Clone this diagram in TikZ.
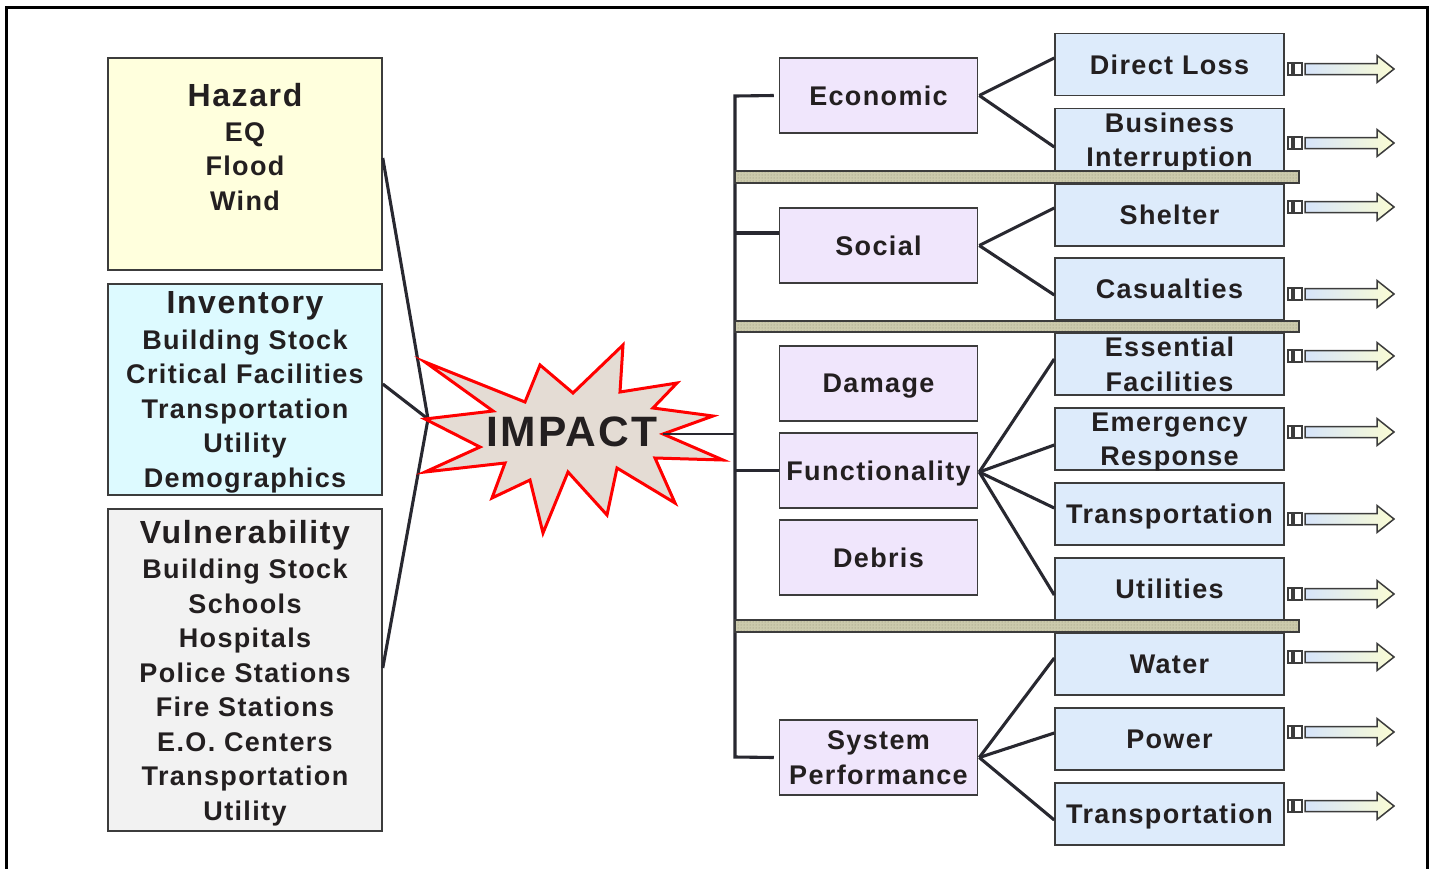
\documentclass[tikz,border=0pt]{standalone}
\usepackage{fontspec}
\setmainfont{Liberation Sans}[LetterSpace=5]
\usetikzlibrary{patterns}
\definecolor{txt}{RGB}{35,31,32}
\definecolor{hazc}{RGB}{255,255,221}
\definecolor{invc}{RGB}{221,250,255}
\definecolor{vulc}{RGB}{242,242,242}
\definecolor{pinkc}{RGB}{240,230,252}
\definecolor{bluec}{RGB}{221,235,251}
\definecolor{starfill}{RGB}{228,220,212}
\definecolor{linec}{RGB}{40,40,48}
\definecolor{boxc}{RGB}{60,60,60}
\definecolor{barfill}{RGB}{204,202,172}
\definecolor{barpat}{RGB}{140,140,115}
\definecolor{arrL}{RGB}{214,228,250}
\definecolor{arrR}{RGB}{250,252,212}
\definecolor{impred}{RGB}{255,0,0}
\newcommand{\itemfnt}{\fontsize{27}{34.5}\selectfont\bfseries}
\newcommand{\ttlfnt}{\fontsize{32}{38}\selectfont}
\tikzset{
  box/.style={draw=boxc, line width=1.5pt, inner sep=0pt, align=center, font=\itemfnt, text=txt, text depth=0pt},
  lbox/.style={box, minimum width=274pt},
  pbox/.style={box, fill=pinkc, minimum width=198pt, minimum height=75pt},
  bbox/.style={box, fill=bluec, minimum width=229pt, minimum height=62pt},
  conn/.style={draw=linec, line width=3.1pt},
  thinconn/.style={draw=linec, line width=1.5pt},
  sepbar/.style={draw=boxc, line width=1.5pt},
  outarr/.pic={
    \draw[draw=boxc, line width=1.2pt, fill=white] (0,-6) rectangle (14,6);
    \fill[boxc] (3,-6) rectangle (7,6);
    \path[draw=boxc, line width=1.5pt, left color=arrL, right color=arrR, line join=miter]
      (17,-5.5) -- (89,-5.5) -- (89,-13.5) -- (106,0) -- (89,13.5) -- (89,5.5) -- (17,5.5) -- cycle;
  }
}
\begin{document}
\begin{tikzpicture}[x=1pt,y=-1pt]
\useasboundingbox (0,0) rectangle (1432,868);
% outer frame
\draw[line width=3pt, black] (6,885) -- (6,7) -- (1427,7) -- (1427,885);

% left boxes
\node[lbox, fill=hazc, minimum height=212pt] (haz) at (245,164)
  {{\ttlfnt Hazard}\\EQ\\Flood\\Wind\\\mbox{}};
\node[lbox, fill=invc, minimum height=211pt] (inv) at (245,389.5)
  {{\ttlfnt Inventory}\\[1pt]Building Stock\\Critical Facilities\\Transportation\\Utility\\Demographics};
\node[lbox, fill=vulc, minimum height=322pt] (vul) at (245,670)
  {{\ttlfnt Vulnerability}\\[1pt]Building Stock\\Schools\\Hospitals\\Police Stations\\Fire Stations\\E.O. Centers\\Transportation\\Utility};

% star anchors
\coordinate (starL) at (428,419);
\coordinate (starR) at (663,434);

% lines into the star
\draw[conn] ([yshift=6pt]haz.east) -- (starL);
\draw[conn] ([yshift=5.5pt]inv.east) -- (starL);
\draw[conn] ([yshift=2pt]vul.east) -- (starL);

% star
\draw[impred, line width=3pt, fill=starfill, line join=miter]
  (425,362) -- (525,402) -- (540,365) -- (573,393) -- (623,345) -- (620,392)
  -- (677,383) -- (653,408) -- (713,416) -- (663,434) -- (723,460) -- (655,458)
  -- (675,503) -- (617,468) -- (607,515) -- (568,472) -- (543,533) -- (530,480)
  -- (492,498) -- (505,463) -- (425,472) -- (480,447) -- (425,419) -- (493,411) -- cycle;
\node[font=\fontsize{42.5}{50}\selectfont\bfseries, text=txt, inner sep=0pt, text depth=0pt] (impact) at (572,432) {IMPACT};

% middle (pink) boxes
\node[pbox] (econ) at (878.5,95.5) {Economic};
\node[pbox] (soc) at (878.5,245.5) {Social};
\node[pbox] (dam) at (878.5,383.5) {Damage};
\node[pbox] (func) at (878.5,470.5) {Functionality};
\node[pbox] (deb) at (878.5,557.5) {Debris};
\node[pbox] (sysp) at (878.5,757.5) {System\\Performance};

% trunk
\coordinate (tt) at (735,96);
\coordinate (tb) at (735,757);
\draw[conn, line join=miter] ([xshift=-5pt]econ.west) -- (tt) -- (tb) -- ([xshift=-5pt]sysp.west);
\draw[conn] ([yshift=12.5pt]soc.west) -- ([yshift=12.5pt]soc.west -| tt);
\draw[conn] (func.west) -- (func.west -| tt);
\draw[thinconn] (starR) -- (starR -| tt);

% right (blue) boxes
\node[bbox] (dl) at (1169.5,64.5) {Direct Loss};
\node[bbox] (bi) at (1169.5,139.5) {Business\\Interruption};
\node[bbox] (shel) at (1169.5,215) {Shelter};
\node[bbox] (cas) at (1169.5,289) {Casualties};
\node[bbox] (ess) at (1169.5,364) {Essential\\Facilities};
\node[bbox] (emer) at (1169.5,439) {Emergency\\Response};
\node[bbox] (trA) at (1169.5,514) {Transportation};
\node[bbox] (util) at (1169.5,589) {Utilities};
\node[bbox] (water) at (1169.5,664) {Water};
\node[bbox] (power) at (1169.5,739) {Power};
\node[bbox] (trB) at (1169.5,814) {Transportation};

% fan connectors
\draw[conn] ([xshift=1pt]econ.east) -- ([yshift=6.5pt]dl.west);
\draw[conn] ([xshift=1pt]econ.east) -- ([yshift=-7.5pt]bi.west);
\draw[conn] ([xshift=1pt]soc.east) -- ([yshift=7pt]shel.west);
\draw[conn] ([xshift=1pt]soc.east) -- ([yshift=-6pt]cas.west);
\draw[conn] ([xshift=1pt,yshift=-1.5pt]func.east) -- ([yshift=5pt]ess.west);
\draw[conn] ([xshift=1pt,yshift=-1.5pt]func.east) -- ([yshift=-6pt]emer.west);
\draw[conn] ([xshift=1pt,yshift=-1.5pt]func.east) -- ([yshift=6pt]trA.west);
\draw[conn] ([xshift=1pt,yshift=-1.5pt]func.east) -- ([yshift=-6pt]util.west);
\draw[conn] ([xshift=1pt]sysp.east) -- ([yshift=6pt]water.west);
\draw[conn] ([xshift=1pt]sysp.east) -- ([yshift=6pt]power.west);
\draw[conn] ([xshift=1pt]sysp.east) -- ([yshift=-6pt]trB.west);

% separator bars
\foreach \ya/\yb in {171/183, 321/332, 620/632} {
  \fill[barfill] (735,\ya) rectangle (1299,\yb);
  \fill[pattern=dots, pattern color=barpat] (735,\ya) rectangle (1299,\yb);
  \draw[sepbar] (735,\ya) rectangle (1299,\yb);
}

% outgoing arrows
\foreach \c/\nm in {69/a1, 143/a2, 207/a3, 294/a4, 356/a5, 432/a6, 519/a7, 594/a8, 657/a9, 732/a10, 806/a11}
  \pic (\nm) at (1288,\c) {outarr};
\end{tikzpicture}
\end{document}
